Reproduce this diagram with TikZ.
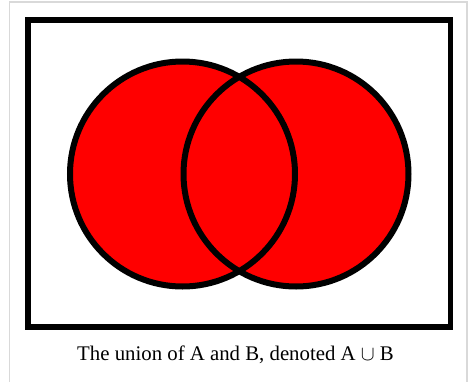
\documentclass[tikz,border=0pt]{standalone}
\usepackage{fontspec}
\setmainfont{Liberation Serif}
\begin{document}
\begin{tikzpicture}[x=1pt,y=-1pt,
  frame/.style={draw=black!15,line width=1.5pt},
  box/.style={draw=black,line width=5.5pt},
  setfill/.style={fill=red},
  setline/.style={draw=black,line width=6pt},
  caption/.style={font=\fontsize{20.8}{24}\selectfont,anchor=base,inner sep=0pt}]
\useasboundingbox (0,0) rectangle (469,381);
\fill[white] (0,0) rectangle (469,381);
\draw[frame] (9.5,390) -- (9.5,2) -- (467,2) -- (467,390);
\draw[box] (27.75,20) rectangle (450.5,326.75);
\coordinate (A) at (182.5,174);
\coordinate (B) at (296,174);
\fill[setfill] (A) circle[radius=112.5];
\fill[setfill] (B) circle[radius=112.5];
\draw[setline] (A) circle[radius=112.5];
\draw[setline] (B) circle[radius=112.5];
\node[caption] (cap) at (235.5,360) {The union of A and B, denoted A $\cup$ B};
\end{tikzpicture}
\end{document}
